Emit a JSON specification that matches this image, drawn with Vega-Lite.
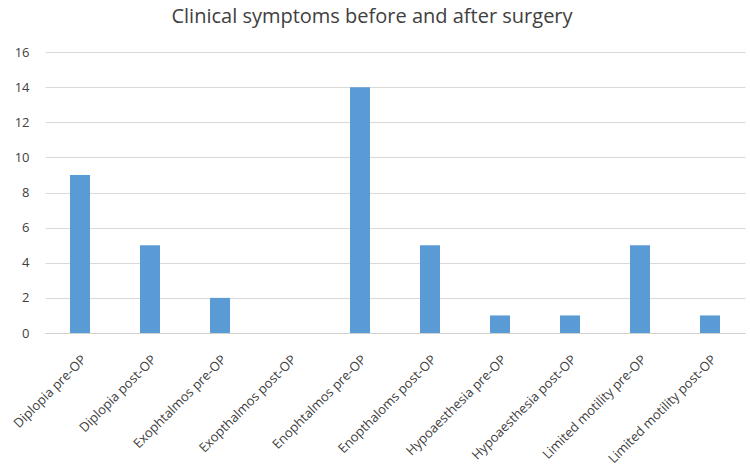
{
  "$schema": "https://vega.github.io/schema/vega-lite/v6.json",
  "width": 700,
  "height": 281,
  "autosize": {"type": "none"},
  "padding": {"left": 45, "top": 52, "right": 5, "bottom": 143},
  "background": "white",
  "title": {
    "text": "Clinical symptoms before and after surgery",
    "font": "Open Sans",
    "fontSize": 20,
    "fontWeight": "normal",
    "color": "#404040",
    "anchor": "middle",
    "dx": -23,
    "offset": 19
  },
  "data": {
    "values": [
      {"symptom": "Diplopia pre-OP", "count": 9},
      {"symptom": "Diplopia post-OP", "count": 5},
      {"symptom": "Exophtalmos  pre-OP", "count": 2},
      {"symptom": "Exopthalmos post-OP", "count": 0},
      {"symptom": "Enophtalmos pre-OP", "count": 14},
      {"symptom": "Enopthaloms post-OP", "count": 5},
      {"symptom": "Hypoaesthesia pre-OP", "count": 1},
      {"symptom": "Hypoaesthesia post-OP", "count": 1},
      {"symptom": "Limited motility pre-OP", "count": 5},
      {"symptom": "Limited motility post-OP", "count": 1}
    ]
  },
  "mark": {"type": "bar", "color": "#5b9bd5", "size": 20},
  "encoding": {
    "x": {
      "field": "symptom",
      "type": "nominal",
      "sort": null,
      "title": null,
      "axis": {
        "labelAngle": -45,
        "labelFont": "Open Sans",
        "labelFontSize": 13,
        "labelColor": "#404040",
        "ticks": false,
        "domain": true,
        "domainColor": "#d0d0d0",
        "labelPadding": 20,
        "labelLimit": 200
      }
    },
    "y": {
      "field": "count",
      "type": "quantitative",
      "title": null,
      "scale": {"domain": [0, 16]},
      "axis": {
        "values": [0, 2, 4, 6, 8, 10, 12, 14, 16],
        "labelFont": "Open Sans",
        "labelFontSize": 13,
        "labelColor": "#404040",
        "ticks": false,
        "domain": false,
        "gridColor": "#d9d9d9",
        "labelPadding": 16
      }
    }
  },
  "config": {"view": {"stroke": null}}
}
